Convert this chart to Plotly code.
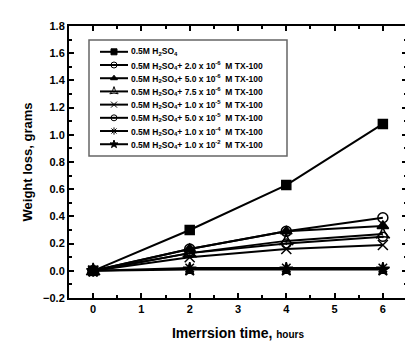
import plotly.graph_objects as go

time_h = [0, 2, 4, 6]
labels = [
    "0.5M H<sub>2</sub>SO<sub>4</sub>",
    "0.5M H<sub>2</sub>SO<sub>4</sub>+ 2.0 x 10<sup>-6</sup>  M TX-100",
    "0.5M H<sub>2</sub>SO<sub>4</sub>+ 5.0 x 10<sup>-6</sup>  M TX-100",
    "0.5M H<sub>2</sub>SO<sub>4</sub>+ 7.5 x 10<sup>-6</sup>  M TX-100",
    "0.5M H<sub>2</sub>SO<sub>4</sub>+ 1.0 x 10<sup>-5</sup>  M TX-100",
    "0.5M H<sub>2</sub>SO<sub>4</sub>+ 5.0 x 10<sup>-5</sup>  M TX-100",
    "0.5M H<sub>2</sub>SO<sub>4</sub>+ 1.0 x 10<sup>-4</sup>  M TX-100",
    "0.5M H<sub>2</sub>SO<sub>4</sub>+ 1.0 x 10<sup>-2</sup>  M TX-100",
]
blank = [0.0, 0.30, 0.63, 1.08]
c_2e6 = [0.0, 0.16, 0.29, 0.39]
c_5e6 = [0.0, 0.16, 0.29, 0.33]
c_75e6 = [0.0, 0.13, 0.22, 0.27]
c_1e5 = [0.0, 0.10, 0.16, 0.19]
c_5e5 = [0.0, 0.13, 0.20, 0.25]
c_1e4 = [0.0, 0.02, 0.02, 0.02]
c_1e2 = [0.0, 0.01, 0.01, 0.01]
series = [blank, c_2e6, c_5e6, c_75e6, c_1e5, c_5e5, c_1e4, c_1e2]
symbols = ["square", "circle-open", "triangle-up", "star-triangle-up-open",
           "x-thin-open", "circle-open-dot", "asterisk-open", "star"]
sizes = [9, 10, 10, 10, 10, 9, 10, 10]

FONT = "Liberation Sans, Arial"

fig = go.Figure()
for lab, ys, sym, sz in zip(labels, series, symbols, sizes):
    fig.add_trace(go.Scatter(
        x=time_h, y=ys, name=lab, mode="lines+markers", showlegend=False,
        line=dict(color="black", width=2),
        marker=dict(symbol=sym, size=sz, color="black",
                    line=dict(color="black", width=1.5)),
    ))

# --- hand-built legend on an overlay axis measured in pixels of the plot area ---
L_LEFT, L_RIGHT, L_TOP, L_BOTTOM = 81, 279, 30, 147
row0, row_step = 42, 13.3
line_x0, line_x1, text_x = 92, 120, 121
rows_y = [row0 + i * row_step for i in range(len(labels))]

fig.add_shape(type="rect", xref="x2", yref="y2",
              x0=L_LEFT, x1=L_RIGHT, y0=L_TOP, y1=L_BOTTOM,
              line=dict(color="#666", width=1.5), fillcolor="white", layer="below")
for i, (lab, sym) in enumerate(zip(labels, symbols)):
    yy = rows_y[i]
    fig.add_shape(type="line", xref="x2", yref="y2",
                  x0=line_x0, x1=line_x1, y0=yy, y1=yy,
                  line=dict(color="black", width=2), layer="below")
    fig.add_annotation(x=text_x, y=yy, xref="x2", yref="y2", text="<b>" + lab + "</b>",
                       showarrow=False, xanchor="left", yanchor="middle",
                       font=dict(family=FONT, size=8.5, color="black"))
fig.add_trace(go.Scatter(
    x=[(line_x0 + line_x1) / 2] * len(labels), y=rows_y, xaxis="x2", yaxis="y2",
    mode="markers", showlegend=False, hoverinfo="skip",
    marker=dict(symbol=symbols, size=6, color="black",
                line=dict(color="black", width=1)),
))

axis_common = dict(
    showline=True, linecolor="black", linewidth=2, mirror="ticks",
    ticks="inside", ticklen=5, tickwidth=2, tickcolor="black",
    showgrid=False, zeroline=False,
    tickfont=dict(family=FONT, size=11, color="black", weight="bold"),
)
xaxis = dict(
    range=[-0.5, 6.5], dtick=1, tick0=0,
    minor=dict(ticks="inside", ticklen=3, tickwidth=1.5, dtick=0.5, tickcolor="black"),
    title=dict(text="<b>Imerrsion time, <span style='font-size:10px'>hours</span></b>",
               font=dict(family=FONT, size=14, color="black"), standoff=14),
    **axis_common,
)
yaxis = dict(
    range=[-0.2, 1.8], dtick=0.2, tick0=0, tickformat=".1f",
    minor=dict(ticks="inside", ticklen=3, tickwidth=1.5, dtick=0.1, tickcolor="black"),
    title=dict(text="<b>Weight loss, grams</b>",
               font=dict(family=FONT, size=13, color="black"), standoff=8),
    **axis_common,
)
fig.update_layout(
    width=413, height=344,
    margin=dict(l=61, r=14, t=16, b=54),
    plot_bgcolor="white", paper_bgcolor="white",
    xaxis=xaxis, yaxis=yaxis,
    xaxis2=dict(overlaying="x", anchor="y2", range=[61, 399], visible=False, fixedrange=True),
    yaxis2=dict(overlaying="y", anchor="x2", range=[290, 16], visible=False, fixedrange=True),
)
fig.write_html("out.html")
